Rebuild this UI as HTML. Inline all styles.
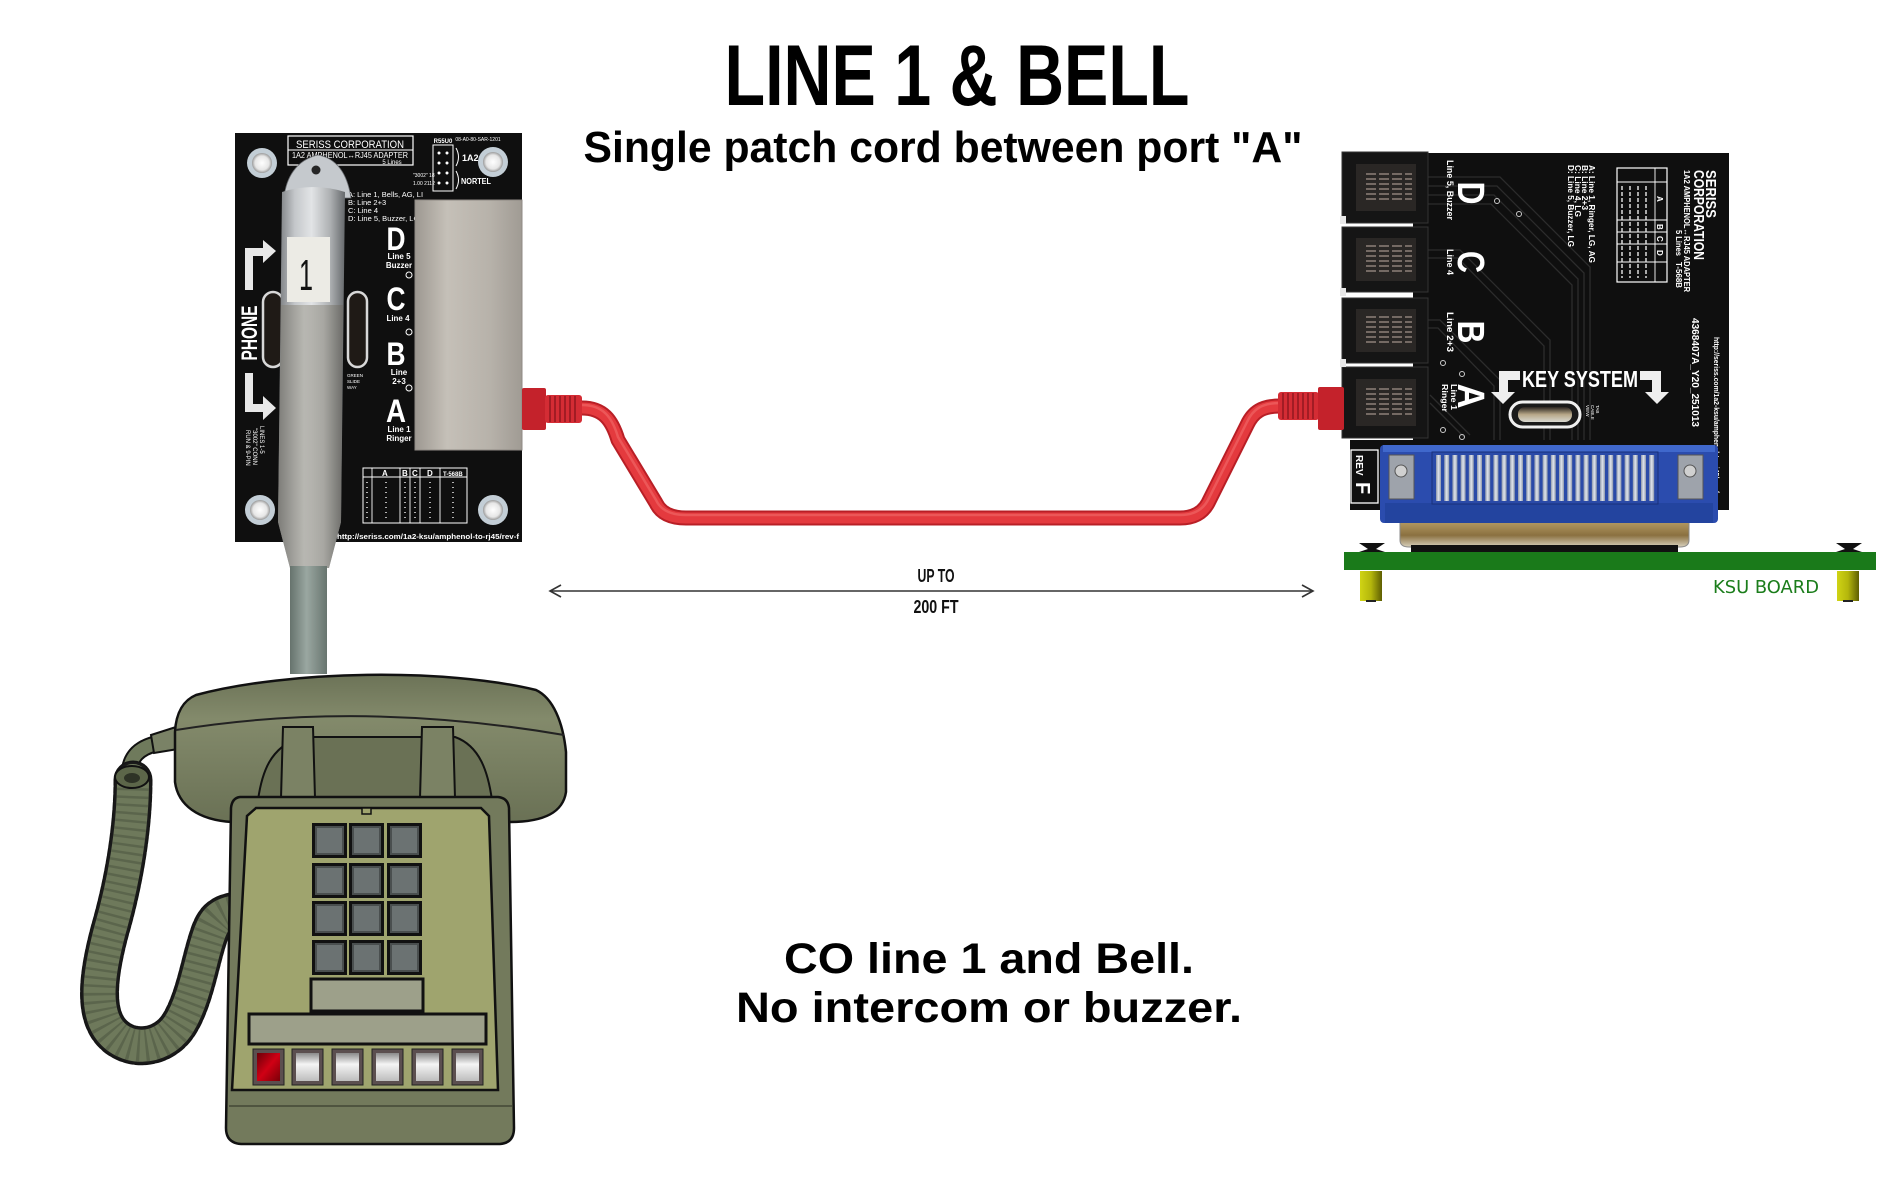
<!DOCTYPE html>
<html><head><meta charset="utf-8"><style>
html,body{margin:0;padding:0;background:#fff;overflow:hidden;}
svg{display:block;}
text{font-family:"Liberation Sans",Arial,sans-serif;}
</style></head><body>
<svg width="1895" height="1191" viewBox="0 0 1895 1191" xmlns="http://www.w3.org/2000/svg">
<defs>
<linearGradient id="plugG" x1="0" x2="1" y1="0" y2="0">
<stop offset="0" stop-color="#76797c"/><stop offset="0.25" stop-color="#c4c7ca"/><stop offset="0.5" stop-color="#e2e4e6"/><stop offset="0.78" stop-color="#adb0b2"/><stop offset="1" stop-color="#66696c"/></linearGradient>
<linearGradient id="plugLow" x1="0" x2="1"><stop offset="0" stop-color="#7e7d78"/><stop offset="0.4" stop-color="#b4b3ad"/><stop offset="0.7" stop-color="#a5a49e"/><stop offset="1" stop-color="#6d6c68"/></linearGradient>
<linearGradient id="cordG" x1="0" x2="1"><stop offset="0" stop-color="#66736d"/><stop offset="0.45" stop-color="#9aa7a1"/><stop offset="1" stop-color="#68756f"/></linearGradient>
<linearGradient id="shieldG" x1="0" x2="1"><stop offset="0" stop-color="#9d9891"/><stop offset="0.3" stop-color="#c5c0b8"/><stop offset="0.7" stop-color="#b7b2aa"/><stop offset="1" stop-color="#a09b94"/></linearGradient>
<radialGradient id="holeG"><stop offset="0" stop-color="#ffffff"/><stop offset="0.7" stop-color="#e6e6e6"/><stop offset="1" stop-color="#9a9a9a"/></radialGradient>
<linearGradient id="shellG" x1="0" x2="0" y1="0" y2="1"><stop offset="0" stop-color="#e6e0d0"/><stop offset="0.35" stop-color="#b49a62"/><stop offset="0.7" stop-color="#8a7040"/><stop offset="1" stop-color="#d8d0bc"/></linearGradient>
<linearGradient id="pinG" x1="0" x2="1"><stop offset="0" stop-color="#8d97aa"/><stop offset="0.5" stop-color="#dfe4ec"/><stop offset="1" stop-color="#8d97aa"/></linearGradient>
<linearGradient id="standG" x1="0" x2="1"><stop offset="0" stop-color="#d0d414"/><stop offset="0.5" stop-color="#b4b60c"/><stop offset="1" stop-color="#5e5e02"/></linearGradient>
<linearGradient id="handG" x1="0" x2="0" y1="0" y2="1"><stop offset="0" stop-color="#6c7357"/><stop offset="0.3" stop-color="#838a6b"/><stop offset="1" stop-color="#6a7155"/></linearGradient>
<linearGradient id="btnW" x1="0" x2="0" y1="0" y2="1"><stop offset="0" stop-color="#8a8a8a"/><stop offset="0.4" stop-color="#f4f4f4"/><stop offset="1" stop-color="#bdbdbd"/></linearGradient>
<linearGradient id="btnR" x1="0" x2="1" y1="0" y2="1"><stop offset="0" stop-color="#6a0008"/><stop offset="0.5" stop-color="#d00014"/><stop offset="1" stop-color="#7a0008"/></linearGradient>
<linearGradient id="slotG" x1="0" x2="0" y1="0" y2="1"><stop offset="0" stop-color="#2a2420"/><stop offset="0.5" stop-color="#b8a888"/><stop offset="1" stop-color="#d8d8d0"/></linearGradient>
</defs>

<!-- TITLES -->
<text x="957" y="105" font-size="86" font-weight="bold" text-anchor="middle" textLength="465" lengthAdjust="spacingAndGlyphs" fill="#000">LINE 1 &amp; BELL</text>
<text x="943" y="162" font-size="44" font-weight="bold" text-anchor="middle" textLength="719" lengthAdjust="spacingAndGlyphs" fill="#000">Single patch cord between port "A"</text>

<!-- LEFT BOARD -->
<rect x="235" y="133" width="287" height="409" fill="#0f0f0f"/>
<g>
<circle cx="262" cy="163" r="15" fill="#c3ced6"/><circle cx="262" cy="163" r="10" fill="url(#holeG)"/>
<circle cx="493" cy="162" r="15" fill="#c3ced6"/><circle cx="493" cy="162" r="10" fill="url(#holeG)"/>
<circle cx="260" cy="510" r="15" fill="#c3ced6"/><circle cx="260" cy="510" r="10" fill="url(#holeG)"/>
<circle cx="493" cy="510" r="15" fill="#c3ced6"/><circle cx="493" cy="510" r="10" fill="url(#holeG)"/>
</g>
<rect x="288" y="136" width="125" height="29" fill="none" stroke="#fff" stroke-width="1.2"/>
<line x1="288" y1="150" x2="413" y2="150" stroke="#fff" stroke-width="1"/>
<text x="350" y="148" font-size="11" fill="#fff" text-anchor="middle" textLength="108" lengthAdjust="spacingAndGlyphs">SERISS CORPORATION</text>
<text x="350" y="158" font-size="8" fill="#fff" text-anchor="middle" textLength="116" lengthAdjust="spacingAndGlyphs">1A2 AMPHENOL↔RJ45 ADAPTER</text>
<text x="392" y="164" font-size="6" fill="#fff" text-anchor="middle">5 Lines</text>
<text x="478" y="141" font-size="5" fill="#fff" text-anchor="middle">08-A0-80-SAR-1201</text>
<text x="443" y="143" font-size="6" fill="#fff" text-anchor="middle" font-weight="bold">R55U0</text>
<rect x="433" y="145" width="20" height="46" fill="none" stroke="#fff" stroke-width="1"/>
<g fill="#fff"><circle cx="439" cy="153" r="1.5"/><circle cx="447" cy="153" r="1.5"/><circle cx="439" cy="163" r="1.5"/><circle cx="447" cy="163" r="1.5"/><circle cx="439" cy="173" r="1.5"/><circle cx="447" cy="173" r="1.5"/><circle cx="439" cy="183" r="1.5"/><circle cx="447" cy="183" r="1.5"/></g>
<path d="M456,148 Q461,157 456,166 M456,171 Q461,180 456,189" stroke="#fff" fill="none" stroke-width="1"/>
<text x="462" y="161" font-size="9" fill="#fff" font-weight="bold">1A2</text>
<text x="461" y="184" font-size="8" fill="#fff" font-weight="bold" textLength="30" lengthAdjust="spacingAndGlyphs">NORTEL</text>
<text x="413" y="177" font-size="5" fill="#fff">"3002" 18</text>
<text x="413" y="185" font-size="5" fill="#fff">1.00 2112</text>
<text x="348" y="197" font-size="7.5" fill="#fff">A: Line 1, Bells, AG, LI</text>
<text x="348" y="205" font-size="7.5" fill="#fff">B: Line 2+3</text>
<text x="348" y="213" font-size="7.5" fill="#fff">C: Line 4</text>
<text x="348" y="221" font-size="7.5" fill="#fff">D: Line 5, Buzzer, LG</text>
<rect x="415" y="200" width="107" height="250" fill="url(#shieldG)"/>
<rect x="415" y="200" width="107" height="250" fill="none" stroke="#8f8a84" stroke-width="1"/>
<g stroke="#fff" fill="none" stroke-width="1"><circle cx="409" cy="275" r="3"/><circle cx="409" cy="332" r="3"/><circle cx="409" cy="388" r="3"/></g>
<g fill="#fff" font-weight="bold" text-anchor="middle">
<text x="396" y="250" font-size="32" textLength="19" lengthAdjust="spacingAndGlyphs">D</text>
<text x="396" y="310" font-size="32" textLength="19" lengthAdjust="spacingAndGlyphs">C</text>
<text x="396" y="365" font-size="32" textLength="19" lengthAdjust="spacingAndGlyphs">B</text>
<text x="396" y="422" font-size="32" textLength="20" lengthAdjust="spacingAndGlyphs">A</text>
<text x="399" y="259" font-size="8">Line 5</text><text x="399" y="268" font-size="8">Buzzer</text>
<text x="398" y="321" font-size="8">Line 4</text>
<text x="399" y="375" font-size="8">Line</text><text x="399" y="384" font-size="8">2+3</text>
<text x="399" y="432" font-size="8">Line 1</text><text x="399" y="441" font-size="8">Ringer</text>
</g>
<text transform="translate(257,333) rotate(-90)" font-size="22" font-weight="bold" fill="#fff" text-anchor="middle" textLength="55" lengthAdjust="spacingAndGlyphs">PHONE</text>
<polygon points="245,290 253,290 253,256 263,256 263,263 276,251 263,240 263,248 245,248" fill="#e8e8e8"/>
<polygon points="245,373 253,373 253,404 263,404 263,396 276,408 263,420 263,412 245,412" fill="#e8e8e8"/>
<rect x="263" y="292" width="20" height="75" rx="10" fill="#1f1a16" stroke="#d8d8d8" stroke-width="2.5"/>
<rect x="348" y="292" width="19" height="75" rx="9.5" fill="#1f1a16" stroke="#d8d8d8" stroke-width="2.5"/>
<g fill="#fff" font-size="4.5"><text x="347" y="377">GREEN</text><text x="347" y="383">SLIDE</text><text x="347" y="389">WAY</text></g>
<g fill="#fff" font-size="6">
<text transform="translate(246,430) rotate(90)">RUN &amp; 9-PIN</text>
<text transform="translate(253,428) rotate(90)">"3002" CONN</text>
<text transform="translate(260,426) rotate(90)">LINES 1-5</text>
</g>
<rect x="363" y="468" width="104" height="55" fill="none" stroke="#fff" stroke-width="1"/>
<g stroke="#fff" stroke-width="0.9">
<line x1="363" y1="477" x2="467" y2="477"/><line x1="372" y1="468" x2="372" y2="523"/><line x1="400" y1="468" x2="400" y2="523"/><line x1="410" y1="468" x2="410" y2="523"/><line x1="420" y1="468" x2="420" y2="523"/><line x1="440" y1="468" x2="440" y2="523"/>
</g>
<g fill="#fff" font-size="8" font-weight="bold"><text x="382" y="476">A</text><text x="402" y="476">B</text><text x="412" y="476">C</text><text x="427" y="476">D</text><text x="443" y="476" font-size="6">T-568B</text></g>
<g stroke="#ddd" stroke-width="2" stroke-dasharray="1 4" opacity="0.8">
<line x1="367" y1="482" x2="367" y2="520"/><line x1="386" y1="482" x2="386" y2="520"/><line x1="405" y1="482" x2="405" y2="520"/><line x1="415" y1="482" x2="415" y2="520"/><line x1="430" y1="482" x2="430" y2="520"/><line x1="453" y1="482" x2="453" y2="520"/>
</g>
<text x="428" y="539" font-size="7.5" font-weight="bold" fill="#fff" text-anchor="middle" textLength="182" lengthAdjust="spacingAndGlyphs">http://seriss.com/1a2-ksu/amphenol-to-rj45/rev-f</text>

<!-- metal plug -->
<path d="M284,198 C286,178 296,160 318,155 C340,159 348,178 351,198 Z" fill="#c5c9cd" stroke="#6b6e72" stroke-width="0.8"/>
<circle cx="316" cy="170" r="4.5" fill="#262626"/>
<path d="M282,192 Q313,182 345,192 L341,522 L329,568 L290,568 L278,522 Z" fill="url(#plugG)"/>
<path d="M281,305 L343,305 L341,522 L329,568 L290,568 L278,522 Z" fill="url(#plugLow)" opacity="0.9"/>
<rect x="287" y="237" width="43" height="65" fill="#ecebe5"/>
<text x="306" y="290" font-size="44" fill="#111" text-anchor="middle" textLength="14" lengthAdjust="spacingAndGlyphs">1</text>
<rect x="290" y="566" width="37" height="108" fill="url(#cordG)"/>

<!-- RED CABLE -->
<path d="M582,408 C603,408 612,420 618,440 L656,503 Q663,518 686,518 L1180,518 Q1200,518 1208,503 L1247,425 C1253,412 1262,406 1280,406" fill="none" stroke="#b91f26" stroke-width="15" stroke-linejoin="round"/>
<path d="M582,408 C603,408 612,420 618,440 L656,503 Q663,518 686,518 L1180,518 Q1200,518 1208,503 L1247,425 C1253,412 1262,406 1280,406" fill="none" stroke="#e43a3e" stroke-width="11" stroke-linejoin="round"/>
<path d="M582,405 C603,405 612,417 618,437 L656,500 Q663,515 686,515 L1180,515 Q1200,515 1208,500 L1247,422 C1253,409 1262,403 1280,403" fill="none" stroke="#f26a6a" stroke-width="2.5" opacity="0.6"/>
<rect x="522" y="388" width="24" height="42" rx="2" fill="#c4222b"/>
<rect x="545" y="395" width="37" height="28" rx="3" fill="#d42c34"/>
<g stroke="#961920" stroke-width="1.6"><line x1="550" y1="396" x2="550" y2="422"/><line x1="555" y1="396" x2="555" y2="422"/><line x1="560" y1="396" x2="560" y2="422"/><line x1="565" y1="396" x2="565" y2="422"/><line x1="570" y1="396" x2="570" y2="422"/><line x1="575" y1="396" x2="575" y2="422"/></g>

<!-- DIMENSION -->
<line x1="550" y1="591" x2="1313" y2="591" stroke="#333" stroke-width="1.6"/>
<path d="M561,585 L550,591 L561,597" fill="none" stroke="#333" stroke-width="1.6"/>
<path d="M1302,585 L1313,591 L1302,597" fill="none" stroke="#333" stroke-width="1.6"/>
<text x="936" y="582" font-size="18" font-weight="bold" fill="#111" text-anchor="middle" textLength="37" lengthAdjust="spacingAndGlyphs">UP TO</text>
<text x="936" y="613" font-size="18" font-weight="bold" fill="#111" text-anchor="middle" textLength="45" lengthAdjust="spacingAndGlyphs">200 FT</text>

<!-- RIGHT BOARD -->
<path d="M1550,510 L1350,510 L1350,440 L1413,440 L1413,153 L1729,153 L1729,510 Z" fill="#0f0f0f"/>
<g stroke="#2c2c2c" stroke-width="1.3" fill="none">
<path d="M1428,177 L1500,177 L1590,267 L1590,440"/><path d="M1428,186 L1497,186 L1584,273 L1584,440"/><path d="M1428,195 L1494,195 L1578,279 L1578,440"/><path d="M1428,204 L1491,204 L1572,285 L1572,440"/>
<path d="M1428,250 L1460,250 L1550,340 L1550,440"/><path d="M1428,258 L1458,258 L1544,346 L1544,440"/>
<path d="M1428,320 L1440,320 L1500,380 L1500,440"/><path d="M1428,328 L1438,328 L1494,386 L1494,440"/>
<path d="M1430,395 L1470,435"/><path d="M1430,403 L1464,437"/>
</g>
<g fill="#fff" font-weight="bold">
<text transform="translate(1458,193) rotate(90)" font-size="38" text-anchor="middle" textLength="23" lengthAdjust="spacingAndGlyphs">D</text>
<text transform="translate(1458,262) rotate(90)" font-size="38" text-anchor="middle" textLength="22" lengthAdjust="spacingAndGlyphs">C</text>
<text transform="translate(1458,332) rotate(90)" font-size="38" text-anchor="middle" textLength="23" lengthAdjust="spacingAndGlyphs">B</text>
<text transform="translate(1458,396) rotate(90)" font-size="38" text-anchor="middle" textLength="25" lengthAdjust="spacingAndGlyphs">A</text>
<text transform="translate(1447,160) rotate(90)" font-size="9" textLength="60" lengthAdjust="spacingAndGlyphs">Line 5, Buzzer</text>
<text transform="translate(1447,249) rotate(90)" font-size="9" textLength="26" lengthAdjust="spacingAndGlyphs">Line 4</text>
<text transform="translate(1447,312) rotate(90)" font-size="9" textLength="40" lengthAdjust="spacingAndGlyphs">Line 2+3</text>
<text transform="translate(1451,384) rotate(90)" font-size="8.5" textLength="26" lengthAdjust="spacingAndGlyphs">Line 1</text>
<text transform="translate(1442,384) rotate(90)" font-size="8.5" textLength="28" lengthAdjust="spacingAndGlyphs">Ringer</text>
<text transform="translate(1589,165) rotate(90)" font-size="8.5" textLength="98" lengthAdjust="spacingAndGlyphs">A: Line 1, Ringer, LG, AG</text>
<text transform="translate(1582,165) rotate(90)" font-size="8.5" textLength="45" lengthAdjust="spacingAndGlyphs">B: Line 2+3</text>
<text transform="translate(1575,165) rotate(90)" font-size="8.5" textLength="52" lengthAdjust="spacingAndGlyphs">C: Line 4, LG</text>
<text transform="translate(1568,165) rotate(90)" font-size="8.5" textLength="82" lengthAdjust="spacingAndGlyphs">D: Line 5, Buzzer, LG</text>
<text transform="translate(1706,170) rotate(90)" font-size="15" textLength="48" lengthAdjust="spacingAndGlyphs">SERISS</text>
<text transform="translate(1694,170) rotate(90)" font-size="15" textLength="90" lengthAdjust="spacingAndGlyphs">CORPORATION</text>
<text transform="translate(1684,170) rotate(90)" font-size="8.5" textLength="122" lengthAdjust="spacingAndGlyphs">1A2 AMPHENOL↔RJ45 ADAPTER</text>
<text transform="translate(1676,230) rotate(90)" font-size="8" textLength="26" lengthAdjust="spacingAndGlyphs">5 Lines</text>
<text transform="translate(1676,262) rotate(90)" font-size="8" textLength="26" lengthAdjust="spacingAndGlyphs">T-568B</text>
<text transform="translate(1692,318) rotate(90)" font-size="10" textLength="109" lengthAdjust="spacingAndGlyphs">4368407A_Y20_251013</text>
<text transform="translate(1714,337) rotate(90)" font-size="7.5" textLength="156" lengthAdjust="spacingAndGlyphs">http://seriss.com/1a2-ksu/amphenol-to-rj45/rev-f</text>
<text x="1580" y="387" font-size="23" text-anchor="middle" textLength="116" lengthAdjust="spacingAndGlyphs">KEY SYSTEM</text>
</g>
<rect x="1617" y="168" width="50" height="114" fill="none" stroke="#fff" stroke-width="1.2"/>
<g stroke="#fff" stroke-width="0.9">
<line x1="1655" y1="168" x2="1655" y2="282"/><line x1="1617" y1="182" x2="1667" y2="182"/><line x1="1617" y1="220" x2="1667" y2="220"/><line x1="1617" y1="232" x2="1667" y2="232"/><line x1="1617" y1="244" x2="1667" y2="244"/><line x1="1617" y1="262" x2="1667" y2="262"/>
</g>
<g stroke="#ddd" stroke-width="2" stroke-dasharray="4 2" opacity="0.75">
<line x1="1622" y1="186" x2="1622" y2="278"/><line x1="1630" y1="186" x2="1630" y2="278"/><line x1="1638" y1="186" x2="1638" y2="278"/><line x1="1646" y1="186" x2="1646" y2="278"/>
</g>
<g fill="#fff" font-size="8" font-weight="bold"><text transform="translate(1657,196) rotate(90)">A</text><text transform="translate(1657,224) rotate(90)">B</text><text transform="translate(1657,236) rotate(90)">C</text><text transform="translate(1657,250) rotate(90)">D</text></g>
<polygon points="1520,371 1520,380 1508,380 1508,392 1515,392 1503,404 1491,392 1499,392 1499,371" fill="#eee"/>
<polygon points="1640,371 1640,380 1652,380 1652,392 1645,392 1657,404 1669,392 1661,392 1661,371" fill="#eee"/>
<rect x="1510" y="402" width="70" height="25" rx="12.5" fill="#1a1a1a" stroke="#f0f0f0" stroke-width="3"/>
<rect x="1518" y="407" width="54" height="15" rx="7" fill="url(#slotG)"/>
<g fill="#fff" font-size="4.5"><text transform="translate(1586,405) rotate(90)">VIEW</text><text transform="translate(1591,405) rotate(90)">CABLE</text><text transform="translate(1596,405) rotate(90)">TAB</text></g>
<g fill="none" stroke="#ccc" stroke-width="1"><circle cx="1497" cy="201" r="2.5"/><circle cx="1519" cy="214" r="2.5"/><circle cx="1443" cy="363" r="2.5"/><circle cx="1462" cy="374" r="2.5"/><circle cx="1443" cy="430" r="2.5"/><circle cx="1462" cy="437" r="2.5"/></g>
<rect x="1351" y="450" width="27" height="53" fill="none" stroke="#fff" stroke-width="1.3"/>
<text transform="translate(1356,455) rotate(90)" font-size="10" font-weight="bold" fill="#fff">REV</text>
<text transform="translate(1356,482) rotate(90)" font-size="20" font-weight="bold" fill="#fff">F</text>

<!-- jacks -->
<g>
<rect x="1342" y="152" width="86" height="71" fill="#151515" stroke="#333"/>
<rect x="1342" y="227" width="86" height="65" fill="#151515" stroke="#333"/>
<rect x="1342" y="298" width="86" height="65" fill="#151515" stroke="#333"/>
<rect x="1342" y="367" width="86" height="71" fill="#151515" stroke="#333"/>
<rect x="1356" y="164" width="60" height="47" fill="#2a2725"/>
<rect x="1356" y="238" width="60" height="43" fill="#2a2725"/>
<rect x="1356" y="309" width="60" height="43" fill="#2a2725"/>
<rect x="1356" y="379" width="60" height="47" fill="#2a2725"/>
</g>
<g stroke="#8e817a" stroke-width="1.4" stroke-dasharray="10 3">
<line x1="1366" y1="174" x2="1412" y2="174"/><line x1="1366" y1="179" x2="1412" y2="179"/><line x1="1366" y1="184" x2="1412" y2="184"/><line x1="1366" y1="189" x2="1412" y2="189"/><line x1="1366" y1="194" x2="1412" y2="194"/><line x1="1366" y1="199" x2="1412" y2="199"/>
<line x1="1366" y1="246" x2="1412" y2="246"/><line x1="1366" y1="251" x2="1412" y2="251"/><line x1="1366" y1="256" x2="1412" y2="256"/><line x1="1366" y1="261" x2="1412" y2="261"/><line x1="1366" y1="266" x2="1412" y2="266"/><line x1="1366" y1="271" x2="1412" y2="271"/>
<line x1="1366" y1="317" x2="1412" y2="317"/><line x1="1366" y1="322" x2="1412" y2="322"/><line x1="1366" y1="327" x2="1412" y2="327"/><line x1="1366" y1="332" x2="1412" y2="332"/><line x1="1366" y1="337" x2="1412" y2="337"/><line x1="1366" y1="342" x2="1412" y2="342"/>
<line x1="1366" y1="389" x2="1412" y2="389"/><line x1="1366" y1="394" x2="1412" y2="394"/><line x1="1366" y1="399" x2="1412" y2="399"/><line x1="1366" y1="404" x2="1412" y2="404"/><line x1="1366" y1="409" x2="1412" y2="409"/><line x1="1366" y1="414" x2="1412" y2="414"/>
</g>
<g fill="#e8e8e8"><rect x="1340" y="216" width="6" height="8"/><rect x="1340" y="288" width="6" height="8"/><rect x="1340" y="359" width="6" height="8"/></g>

<!-- right red connector -->
<rect x="1278" y="392" width="41" height="28" rx="3" fill="#d42c34"/>
<g stroke="#961920" stroke-width="1.6"><line x1="1283" y1="393" x2="1283" y2="419"/><line x1="1288" y1="393" x2="1288" y2="419"/><line x1="1293" y1="393" x2="1293" y2="419"/><line x1="1298" y1="393" x2="1298" y2="419"/><line x1="1303" y1="393" x2="1303" y2="419"/><line x1="1308" y1="393" x2="1308" y2="419"/><line x1="1313" y1="393" x2="1313" y2="419"/></g>
<rect x="1318" y="387" width="26" height="43" rx="2" fill="#c4222b"/>

<!-- amphenol connector -->
<path d="M1400,508 L1689,508 L1689,540 Q1689,547 1680,547 L1409,547 Q1400,547 1400,540 Z" fill="url(#shellG)" stroke="#8a8a8a" stroke-width="1"/>
<rect x="1411" y="545" width="267" height="8" fill="#111"/>
<rect x="1380" y="445" width="338" height="78" rx="4" fill="#2b4cae"/>
<rect x="1383" y="445" width="332" height="7" fill="#4068cc"/>
<rect x="1385" y="503" width="328" height="20" fill="#23449f"/>
<rect x="1432" y="452" width="226" height="52" fill="#2a4aa8" stroke="#18307a"/>
<g fill="url(#pinG)">
<rect x="1436" y="455" width="5" height="46"/><rect x="1444.2" y="455" width="5" height="46"/><rect x="1452.4" y="455" width="5" height="46"/><rect x="1460.6" y="455" width="5" height="46"/><rect x="1468.8" y="455" width="5" height="46"/><rect x="1477" y="455" width="5" height="46"/><rect x="1485.2" y="455" width="5" height="46"/><rect x="1493.4" y="455" width="5" height="46"/><rect x="1501.6" y="455" width="5" height="46"/><rect x="1509.8" y="455" width="5" height="46"/><rect x="1518" y="455" width="5" height="46"/><rect x="1526.2" y="455" width="5" height="46"/><rect x="1534.4" y="455" width="5" height="46"/><rect x="1542.6" y="455" width="5" height="46"/><rect x="1550.8" y="455" width="5" height="46"/><rect x="1559" y="455" width="5" height="46"/><rect x="1567.2" y="455" width="5" height="46"/><rect x="1575.4" y="455" width="5" height="46"/><rect x="1583.6" y="455" width="5" height="46"/><rect x="1591.8" y="455" width="5" height="46"/><rect x="1600" y="455" width="5" height="46"/><rect x="1608.2" y="455" width="5" height="46"/><rect x="1616.4" y="455" width="5" height="46"/><rect x="1624.6" y="455" width="5" height="46"/><rect x="1632.8" y="455" width="5" height="46"/><rect x="1641" y="455" width="5" height="46"/><rect x="1649.2" y="455" width="5" height="46"/>
</g>
<rect x="1389" y="455" width="25" height="44" fill="#9ea3ab" stroke="#555"/>
<circle cx="1401" cy="471" r="6" fill="#d0d0d0" stroke="#555"/>
<rect x="1678" y="455" width="25" height="44" fill="#9ea3ab" stroke="#555"/>
<circle cx="1690" cy="471" r="6" fill="#d0d0d0" stroke="#555"/>

<!-- KSU board -->
<path d="M1359,543 L1385,543 L1376,549 L1385,552 L1359,552 L1368,549 Z" fill="#111"/>
<path d="M1836,543 L1862,543 L1853,549 L1862,552 L1836,552 L1845,549 Z" fill="#111"/>
<rect x="1344" y="552" width="532" height="18" fill="#1a7a1a"/>
<rect x="1360" y="571" width="22" height="30" fill="url(#standG)"/>
<rect x="1837" y="571" width="22" height="30" fill="url(#standG)"/>
<rect x="1366" y="600" width="10" height="2" fill="#222"/><rect x="1843" y="600" width="10" height="2" fill="#222"/>
<text x="1713" y="593" font-size="18" fill="#1b7d1b" style="font-family:'DejaVu Sans',sans-serif" textLength="106" lengthAdjust="spacingAndGlyphs">KSU BOARD</text>

<!-- PHONE -->
<!-- coiled cord -->
<path d="M155,744 C140,748 129,756 129,776" fill="none" stroke="#111" stroke-width="17"/>
<path d="M155,744 C140,748 129,756 129,776" fill="none" stroke="#6f7a5c" stroke-width="13"/>
<path d="M133,780 C133,830 123,885 110,930 C98,975 95,1008 108,1028 C124,1052 160,1052 178,1026 C194,1002 200,962 208,938 C213,922 218,915 232,912" fill="none" stroke="#151515" stroke-width="39" stroke-dasharray="5 3" stroke-linecap="round"/>
<path d="M133,780 C133,830 123,885 110,930 C98,975 95,1008 108,1028 C124,1052 160,1052 178,1026 C194,1002 200,962 208,938 C213,922 218,915 232,912" fill="none" stroke="#1a1a1a" stroke-width="36" stroke-linecap="round"/>
<path d="M133,780 C133,830 123,885 110,930 C98,975 95,1008 108,1028 C124,1052 160,1052 178,1026 C194,1002 200,962 208,938 C213,922 218,915 232,912" fill="none" stroke="#6e795b" stroke-width="32" stroke-linecap="round"/>
<path d="M133,780 C133,830 123,885 110,930 C98,975 95,1008 108,1028 C124,1052 160,1052 178,1026 C194,1002 200,962 208,938 C213,922 218,915 232,912" fill="none" stroke="#4c5540" stroke-width="32" stroke-dasharray="2.5 5.5" opacity="0.55"/>
<ellipse cx="132" cy="777" rx="17" ry="11" fill="#5c6649" stroke="#111" stroke-width="2"/>
<ellipse cx="132" cy="778" rx="8" ry="5" fill="#2e3326"/>
<path d="M151,735 L176,727 L178,749 L154,753 Z" fill="#7a8266" stroke="#111" stroke-width="2"/>

<!-- handset -->
<path d="M175,732 C176,712 184,700 196,695 C290,670 445,668 536,690 C553,698 563,722 566,752 L566,792 C563,812 545,822 510,822 L232,822 C198,820 178,805 175,782 Z" fill="url(#handG)" stroke="#111" stroke-width="2.5"/>
<path d="M176,730 Q360,700 564,735" fill="none" stroke="#222" stroke-width="2"/>
<path d="M258,800 C262,772 270,748 300,737 L455,737 C480,746 488,772 492,800 Z" fill="#6a7155" stroke="#111" stroke-width="2"/>
<path d="M283,727 L313,727 L315,798 L281,798 Z" fill="#7b8264" stroke="#111" stroke-width="2"/>
<path d="M422,727 L453,727 L455,798 L420,798 Z" fill="#7b8264" stroke="#111" stroke-width="2"/>

<!-- base -->
<path d="M240,797 L498,797 Q508,798 509,808 L514,1128 Q514,1143 500,1144 L241,1144 Q226,1143 226,1128 L231,808 Q232,798 240,797 Z" fill="#737a5c" stroke="#111" stroke-width="2.5"/>
<line x1="229" y1="1106" x2="513" y2="1106" stroke="#3a3f2e" stroke-width="1.2"/>
<path d="M256,808 L481,808 L489,816 L498,1090 L232,1090 L247,816 Z" fill="#9fa46e" stroke="#111" stroke-width="2.5"/>
<rect x="362" y="808" width="9" height="6" fill="#9fa46e" stroke="#111" stroke-width="1.5"/>
<g>
<rect x="312" y="823" width="35" height="35" fill="#111"/><rect x="349" y="823" width="35" height="35" fill="#111"/><rect x="387" y="823" width="35" height="35" fill="#111"/>
<rect x="312" y="863" width="35" height="35" fill="#111"/><rect x="349" y="863" width="35" height="35" fill="#111"/><rect x="387" y="863" width="35" height="35" fill="#111"/>
<rect x="312" y="901" width="35" height="35" fill="#111"/><rect x="349" y="901" width="35" height="35" fill="#111"/><rect x="387" y="901" width="35" height="35" fill="#111"/>
<rect x="312" y="940" width="35" height="35" fill="#111"/><rect x="349" y="940" width="35" height="35" fill="#111"/><rect x="387" y="940" width="35" height="35" fill="#111"/>
</g>
<g fill="#4a4f4f">
<rect x="315" y="826" width="29" height="29"/><rect x="352" y="826" width="29" height="29"/><rect x="390" y="826" width="29" height="29"/>
<rect x="315" y="866" width="29" height="29"/><rect x="352" y="866" width="29" height="29"/><rect x="390" y="866" width="29" height="29"/>
<rect x="315" y="904" width="29" height="29"/><rect x="352" y="904" width="29" height="29"/><rect x="390" y="904" width="29" height="29"/>
<rect x="315" y="943" width="29" height="29"/><rect x="352" y="943" width="29" height="29"/><rect x="390" y="943" width="29" height="29"/>
</g>
<g fill="#6b7272">
<rect x="317" y="828" width="25" height="25"/><rect x="354" y="828" width="25" height="25"/><rect x="392" y="828" width="25" height="25"/>
<rect x="317" y="868" width="25" height="25"/><rect x="354" y="868" width="25" height="25"/><rect x="392" y="868" width="25" height="25"/>
<rect x="317" y="906" width="25" height="25"/><rect x="354" y="906" width="25" height="25"/><rect x="392" y="906" width="25" height="25"/>
<rect x="317" y="945" width="25" height="25"/><rect x="354" y="945" width="25" height="25"/><rect x="392" y="945" width="25" height="25"/>
</g>
<rect x="311" y="979" width="112" height="32" fill="#9da08a" stroke="#111" stroke-width="3"/>
<rect x="249" y="1014" width="237" height="30" fill="#9da08a" stroke="#111" stroke-width="3"/>
<g>
<rect x="253" y="1049" width="31" height="36" fill="#5b4f4f" stroke="#222" stroke-width="1"/><rect x="257" y="1053" width="23" height="28" fill="url(#btnR)"/>
<rect x="292" y="1049" width="31" height="36" fill="#5b4f4f" stroke="#222" stroke-width="1"/><rect x="296" y="1053" width="23" height="28" fill="url(#btnW)"/>
<rect x="332" y="1049" width="31" height="36" fill="#5b4f4f" stroke="#222" stroke-width="1"/><rect x="336" y="1053" width="23" height="28" fill="url(#btnW)"/>
<rect x="372" y="1049" width="31" height="36" fill="#5b4f4f" stroke="#222" stroke-width="1"/><rect x="376" y="1053" width="23" height="28" fill="url(#btnW)"/>
<rect x="412" y="1049" width="31" height="36" fill="#5b4f4f" stroke="#222" stroke-width="1"/><rect x="416" y="1053" width="23" height="28" fill="url(#btnW)"/>
<rect x="452" y="1049" width="31" height="36" fill="#5b4f4f" stroke="#222" stroke-width="1"/><rect x="456" y="1053" width="23" height="28" fill="url(#btnW)"/>
</g>

<!-- BOTTOM TEXT -->
<text x="989" y="973" font-size="43" font-weight="bold" fill="#000" text-anchor="middle" textLength="410" lengthAdjust="spacingAndGlyphs">CO line 1 and Bell.</text>
<text x="989" y="1022" font-size="43" font-weight="bold" fill="#000" text-anchor="middle" textLength="506" lengthAdjust="spacingAndGlyphs">No intercom or buzzer.</text>
</svg>
</body></html>
